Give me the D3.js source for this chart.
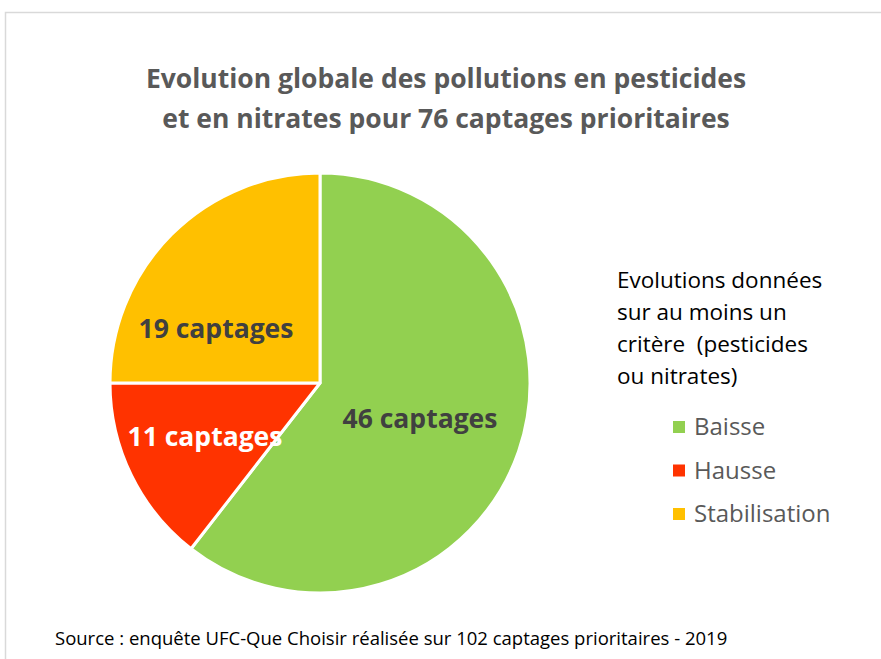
<!DOCTYPE html>
<html>
<head>
<meta charset="utf-8">
<script src="https://cdn.jsdelivr.net/npm/d3@7"></script>
<style>
  body { margin: 0; background: #fff; }
  text { font-family: "Open Sans", "Noto Sans", sans-serif; }
</style>
</head>
<body>
<svg id="chart" width="881" height="659"></svg>
<script>
var categories = ["Baisse", "Hausse", "Stabilisation"];
var values = [46, 11, 19];
var colors = ["#92D050", "#FF3300", "#FFC000"];
var sliceLabels = ["46 captages", "11 captages", "19 captages"];
var labelColors = ["#404040", "#ffffff", "#404040"];
var titleLines = ["Evolution globale des pollutions en pesticides",
                  "et en nitrates pour 76 captages prioritaires"];
var legendTitle = ["Evolutions données", "sur au moins un",
                   "critère  (pesticides", "ou nitrates)"];
var sourceText = "Source : enquête UFC-Que Choisir réalisée sur 102 captages prioritaires - 2019";

var svg = d3.select("#chart");

// frame
svg.append("rect")
  .attr("x", 5.5).attr("y", 12.5)
  .attr("width", 900).attr("height", 700)
  .attr("fill", "none")
  .attr("stroke", "#d9d9d9")
  .attr("stroke-width", 1.5);

// title
svg.selectAll("text.title")
  .data(titleLines)
  .enter().append("text")
  .attr("class", "title")
  .attr("x", 446)
  .attr("y", function(d, i){ return 88 + i * 40; })
  .attr("text-anchor", "middle")
  .attr("fill", "#595959")
  .attr("font-size", 26.5)
  .attr("font-weight", "bold")
  .text(function(d){ return d; });

// pie
var cx = 320, cy = 383, radius = 210;
var pie = d3.pie().sort(null);
var arc = d3.arc().innerRadius(0).outerRadius(radius);
var arcs = pie(values);

var g = svg.append("g").attr("transform", "translate(" + cx + "," + cy + ")");
g.selectAll("path")
  .data(arcs)
  .enter().append("path")
  .attr("d", arc)
  .attr("fill", function(d, i){ return colors[i]; })
  .attr("stroke", "#fff")
  .attr("stroke-width", 3)
  .attr("stroke-linejoin", "round");

var labelPos = [[100, 45], [-115, 63], [-104, -45]];
g.selectAll("text.slice")
  .data(arcs)
  .enter().append("text")
  .attr("class", "slice")
  .attr("x", function(d, i){ return labelPos[i][0]; })
  .attr("y", function(d, i){ return labelPos[i][1]; })
  .attr("text-anchor", "middle")
  .attr("fill", function(d, i){ return labelColors[i]; })
  .attr("font-size", 26.5)
  .attr("font-weight", "bold")
  .text(function(d, i){ return sliceLabels[i]; });

// legend title
svg.selectAll("text.ltitle")
  .data(legendTitle)
  .enter().append("text")
  .attr("class", "ltitle")
  .attr("x", 617)
  .attr("y", function(d, i){ return 288 + i * 32; })
  .attr("fill", "#000")
  .attr("font-size", 22.5)
  .style("white-space", "pre")
  .text(function(d){ return d; });

var legend = svg.selectAll("g.legend")
  .data(categories)
  .enter().append("g")
  .attr("class", "legend")
  .attr("transform", function(d, i){ return "translate(673," + (435 + i * 43.5) + ")"; });
legend.append("rect")
  .attr("x", 0).attr("y", -14)
  .attr("width", 12).attr("height", 12)
  .attr("fill", function(d, i){ return colors[i]; });
legend.append("text")
  .attr("x", 21).attr("y", 0)
  .attr("fill", "#595959")
  .attr("font-size", 24)
  .text(function(d){ return d; });

// source
svg.append("text")
  .attr("x", 55).attr("y", 645)
  .attr("fill", "#000")
  .attr("font-size", 18.5)
  .text(sourceText);
</script>
</body>
</html>
